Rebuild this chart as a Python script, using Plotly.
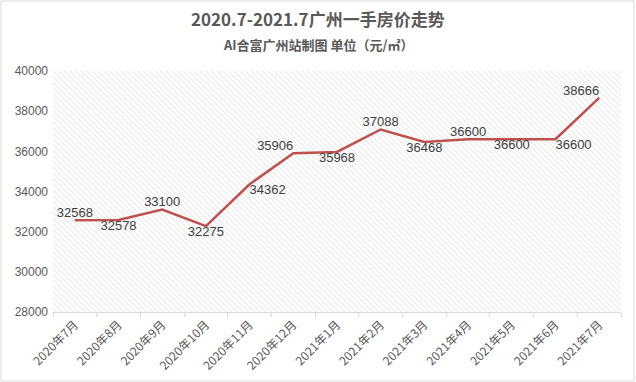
import plotly.graph_objects as go

months = ["2020年7月", "2020年8月", "2020年9月", "2020年10月", "2020年11月", "2020年12月",
          "2021年1月", "2021年2月", "2021年3月", "2021年4月", "2021年5月", "2021年6月", "2021年7月"]
prices = [32568, 32578, 33100, 32275, 34362, 35906, 35968, 37088, 36468, 36600, 36600, 36600, 38666]
label_pos = ["top center", "bottom center", "top center", "bottom center", "bottom right",
             "top left", "bottom center", "top center", "bottom center", "top center",
             "bottom center", "bottom right", "top left"]
y_ticks = [28000, 30000, 32000, 34000, 36000, 38000, 40000]

W, H = 636, 382
L, R, T, B = 53, 15, 71, 70

fig = go.Figure()

# hatched plot background on the hidden base axes
fig.add_trace(go.Scatter(
    x=[0, 1, 1, 0, 0], y=[0, 0, 1, 1, 0], xaxis="x", yaxis="y",
    mode="lines", line=dict(width=0), fill="toself", fillcolor="rgba(255,255,255,0)",
    fillpattern=dict(shape="\\", fgcolor="#cccccc", bgcolor="white", size=4, solidity=0.28),
    hoverinfo="skip", showlegend=False))

fig.add_trace(go.Scatter(
    x=months, y=prices, mode="lines+text", xaxis="x2", yaxis="y2",
    line=dict(color="#C0504D", width=2.5),
    text=[str(v) for v in prices], textposition=label_pos,
    textfont=dict(size=13, color="#404040", family="Liberation Sans, Arial, sans-serif"),
    showlegend=False, cliponaxis=False))

fig.update_layout(
    width=W, height=H,
    margin=dict(l=L, r=R, t=T, b=B, autoexpand=False),
    paper_bgcolor="white", plot_bgcolor="white",
    font=dict(family="Liberation Sans, Noto Sans CJK SC, sans-serif", color="#595959"),
    xaxis=dict(range=[0, 1], visible=False, fixedrange=True, automargin=False),
    yaxis=dict(range=[0, 1], visible=False, fixedrange=True, automargin=False),
    xaxis2=dict(overlaying="x", type="category", range=[-0.5, 12.5], tickson="boundaries",
                ticks="outside", ticklen=4, tickcolor="#d9d9d9", automargin=False,
                showline=True, linecolor="#d9d9d9", linewidth=1, showgrid=False,
                tickangle=-45, tickfont=dict(size=12, color="#595959",
                                             family="Noto Sans CJK SC, sans-serif")),
    yaxis2=dict(overlaying="y", range=[28000, 40000], tickvals=y_ticks, automargin=False,
                ticktext=[str(v) for v in y_ticks], showgrid=True, gridcolor="#d9d9d9",
                zeroline=False, showline=False, ticks="", tickfont=dict(size=12, color="#595959"),
                ticklabelstandoff=4),
    shapes=[dict(type="rect", xref="paper", yref="paper",
                 x0=-(L - 1) / (W - L - R), x1=1 + (R - 2) / (W - L - R),
                 y0=-(B - 1) / (H - T - B), y1=1 + (T - 1) / (H - T - B),
                 line=dict(color="#d9d9d9", width=1), layer="below")],
    annotations=[
        dict(text="<b>2020.7-2021.7广州一手房价走势</b>", xref="paper", yref="paper",
             x=(318 - L) / (W - L - R), y=1 + (T - 19) / (H - T - B), yanchor="middle",
             showarrow=False,
             font=dict(size=17, color="#595959", family="Noto Sans CJK SC, sans-serif")),
        dict(text="<b>AI合富广州站制图 单位（元/㎡）</b>", xref="paper", yref="paper",
             x=(318 - L) / (W - L - R), y=1 + (T - 45) / (H - T - B), yanchor="middle",
             showarrow=False,
             font=dict(size=13, color="#595959", family="Noto Sans CJK SC, sans-serif")),
    ],
)

fig.write_html("out.html", config={"displayModeBar": False},
               post_script="document.body.style.margin='0';document.body.style.overflow='hidden';")
